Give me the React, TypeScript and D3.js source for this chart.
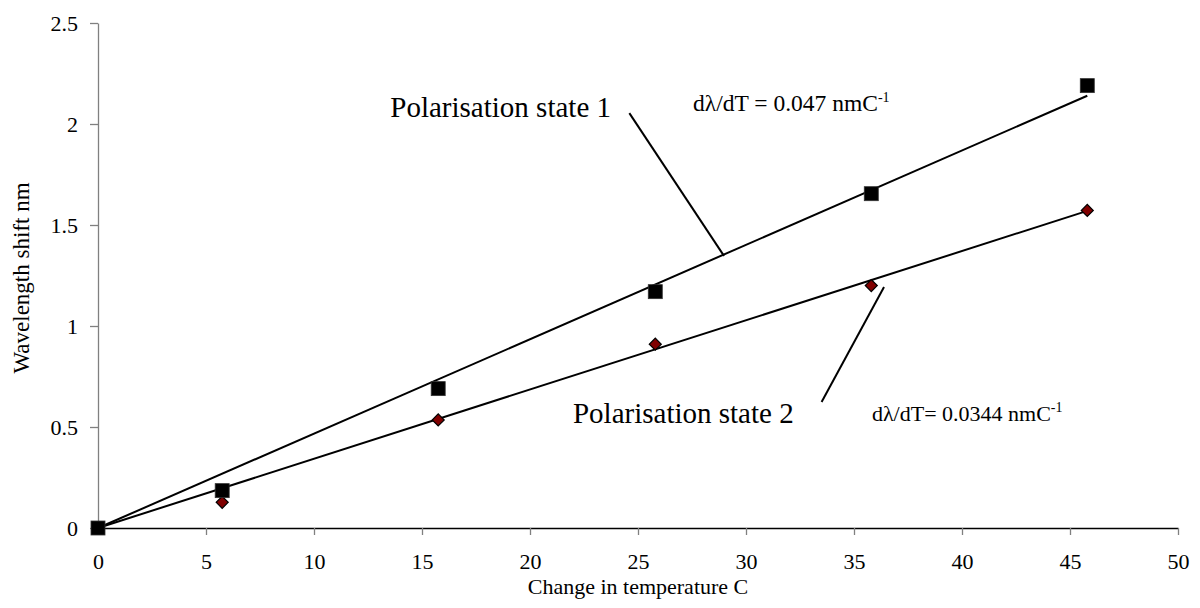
import React, { useRef, useEffect } from "react";
import * as d3 from "d3";

const temps = [0, 5.75, 15.75, 25.8, 35.8, 45.8];
const state1 = [0, 0.185, 0.69, 1.17, 1.655, 2.19];
const state2 = [0, 0.127, 0.535, 0.91, 1.2, 1.572];

// linear fit end points (slopes 0.047 and 0.0344)
const fit1 = [
  [0, 0],
  [45.8, 2.14],
];
const fit2 = [
  [0, 0],
  [45.8, 1.57],
];

const xTicks = [0, 5, 10, 15, 20, 25, 30, 35, 40, 45, 50];
const yTicks = [0, 0.5, 1, 1.5, 2, 2.5];

// pointer lines from the labels to the fit lines (data units)
const pointer1 = [
  [24.6, 2.054],
  [28.98, 1.347],
];
const pointer2 = [
  [36.39, 1.193],
  [33.5, 0.624],
];

function Chart({ width, height }) {
  const svgRef = useRef(null);

  useEffect(() => {
    const svg = d3.select(svgRef.current);
    svg.selectAll("*").remove();

    const x = d3.scaleLinear().domain([0, 50]).range([98, 1178]);
    const y = d3.scaleLinear().domain([0, 2.5]).range([528, 23]);
    const font = "'Liberation Serif', 'Times New Roman', serif";

    // x axis
    const gx = svg
      .append("g")
      .attr("transform", "translate(0,528)")
      .call(
        d3
          .axisBottom(x)
          .tickValues(xTicks)
          .tickFormat((d) => String(d))
          .tickSize(7)
          .tickSizeOuter(0)
          .tickPadding(18)
      );
    gx.select(".domain").attr("stroke", "#000").attr("stroke-width", 1.3);
    gx.selectAll(".tick line").attr("stroke", "#808080").attr("stroke-width", 1.3);
    gx.selectAll(".tick text")
      .attr("font-family", font)
      .attr("font-size", 22)
      .attr("fill", "#000");

    // y axis
    const gy = svg
      .append("g")
      .attr("transform", "translate(98,0)")
      .call(
        d3
          .axisLeft(y)
          .tickValues(yTicks)
          .tickFormat((d) => String(d))
          .tickSize(8)
          .tickSizeOuter(0)
          .tickPadding(12)
      );
    gy.select(".domain").attr("stroke", "#808080").attr("stroke-width", 1.3);
    gy.selectAll(".tick line").attr("stroke", "#808080").attr("stroke-width", 1.3);
    gy.selectAll(".tick text")
      .attr("font-family", font)
      .attr("font-size", 22)
      .attr("fill", "#000");

    // axis titles
    svg
      .append("text")
      .attr("x", 638)
      .attr("y", 594)
      .attr("text-anchor", "middle")
      .attr("font-family", font)
      .attr("font-size", 22)
      .text("Change in temperature C");
    svg
      .append("text")
      .attr("transform", "translate(29,278) rotate(-90)")
      .attr("text-anchor", "middle")
      .attr("font-family", font)
      .attr("font-size", 23)
      .text("Wavelength shift nm");

    const line = d3
      .line()
      .x((d) => x(d[0]))
      .y((d) => y(d[1]));

    // fit lines
    [fit1, fit2].forEach((f) => {
      svg
        .append("path")
        .datum(f)
        .attr("fill", "none")
        .attr("stroke", "#000")
        .attr("stroke-width", 2)
        .attr("d", line);
    });

    // pointer lines
    [pointer1, pointer2].forEach((p) => {
      svg
        .append("path")
        .datum(p)
        .attr("fill", "none")
        .attr("stroke", "#000")
        .attr("stroke-width", 2)
        .attr("d", line);
    });

    // state 2 diamonds
    const diamond = d3.symbol().type(d3.symbolSquare).size(72);
    svg
      .append("g")
      .selectAll("path")
      .data(temps.map((t, i) => [t, state2[i]]))
      .join("path")
      .attr("d", diamond)
      .attr("transform", (d) => `translate(${x(d[0])},${y(d[1])}) rotate(45)`)
      .attr("fill", "#800000")
      .attr("stroke", "#000")
      .attr("stroke-width", 1.2);

    // state 1 squares
    svg
      .append("g")
      .selectAll("rect")
      .data(temps.map((t, i) => [t, state1[i]]))
      .join("rect")
      .attr("x", (d) => x(d[0]) - 7)
      .attr("y", (d) => y(d[1]) - 7)
      .attr("width", 14)
      .attr("height", 14)
      .attr("fill", "#000")
      .attr("stroke", "#333")
      .attr("stroke-width", 0.8);

    // labels
    svg
      .append("text")
      .attr("x", x(23.75))
      .attr("y", y(2.035))
      .attr("text-anchor", "end")
      .attr("font-family", font)
      .attr("font-size", 29)
      .text("Polarisation state 1");
    svg
      .append("text")
      .attr("x", x(21.99))
      .attr("y", y(0.52))
      .attr("font-family", font)
      .attr("font-size", 29)
      .text("Polarisation state 2");

    // slope annotations
    const slope = (px, py, label, size) => {
      const t = svg
        .append("text")
        .attr("x", x(px))
        .attr("y", y(py))
        .attr("font-family", font)
        .attr("font-size", size);
      t.append("tspan").text(label);
      t.append("tspan").attr("dy", -9).attr("font-size", 14).text("-1");
    };
    slope(27.55, 2.064, "d\u03bb/dT = 0.047 nmC", 23.5);
    slope(35.83, 0.53, "d\u03bb/dT= 0.0344 nmC", 22);
  }, [width, height]);

  return <svg ref={svgRef} width={width} height={height}></svg>;
}

export default function App() {
  return (
    <div style={{ position: "absolute", left: 0, top: 0, background: "#fff" }}>
      <Chart width={1200} height={608} />
    </div>
  );
}
